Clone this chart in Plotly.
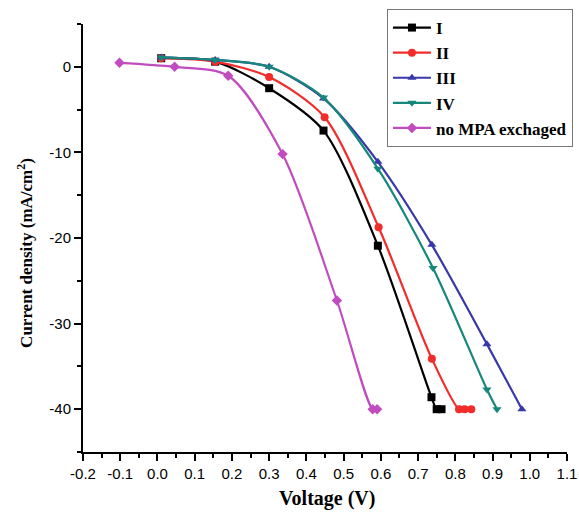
import plotly.graph_objects as go

# Data
v_I = [0.01, 0.155, 0.30, 0.446, 0.592, 0.736, 0.75, 0.763]
j_I = [1.0, 0.6, -2.5, -7.45, -20.9, -38.6, -40.0, -40.0]

v_II = [0.01, 0.155, 0.30, 0.449, 0.594, 0.737, 0.81, 0.825, 0.843]
j_II = [1.0, 0.6, -1.2, -5.9, -18.75, -34.1, -40.0, -40.0, -40.0]

v_III = [0.01, 0.155, 0.30, 0.446, 0.592, 0.737, 0.885, 0.979]
j_III = [1.1, 0.8, 0.0, -3.7, -11.1, -20.8, -32.4, -40.0]

v_IV = [0.01, 0.155, 0.30, 0.446, 0.592, 0.74, 0.885, 0.912]
j_IV = [1.1, 0.8, 0.0, -3.6, -11.9, -23.5, -37.7, -40.0]

v_no = [-0.102, 0.046, 0.19, 0.336, 0.482, 0.578, 0.59]
j_no = [0.47, 0.0, -1.05, -10.2, -27.3, -40.0, -40.0]

series = [
    ("I", v_I, j_I, "#000000", "square"),
    ("II", v_II, j_II, "#f22b2b", "circle"),
    ("III", v_III, j_III, "#3838a8", "triangle-up"),
    ("IV", v_IV, j_IV, "#16877a", "triangle-down"),
    ("no MPA exchaged", v_no, j_no, "#c04cc0", "diamond"),
]

x_ticks = [-0.2, -0.1, 0.0, 0.1, 0.2, 0.3, 0.4, 0.5, 0.6, 0.7, 0.8, 0.9, 1.0, 1.1]
x_labels = ["-0.2", "-0.1", "0.0", "0.1", "0.2", "0.3", "0.4", "0.5", "0.6", "0.7", "0.8", "0.9", "1.0", "1.1"]
y_ticks = [0, -10, -20, -30, -40]
y_labels = ["0", "-10", "-20", "-30", "-40"]

x_title = "Voltage (V)"
y_title = "Current density (mA/cm<sup>2</sup>)"

fig = go.Figure()
for name, xs, ys, col, sym in series:
    fig.add_trace(go.Scatter(
        x=xs, y=ys, name=name, mode="lines+markers",
        line=dict(color=col, width=2.2, shape="spline", smoothing=0.8),
        marker=dict(color=col, symbol=sym, size=8),
    ))

fig.update_layout(
    width=579, height=512,
    margin=dict(l=83, r=12, t=24, b=60, autoexpand=False),
    paper_bgcolor="white", plot_bgcolor="white",
    showlegend=True,
    legend=dict(
        x=0.628, y=1.035, xanchor="left", yanchor="top",
        bordercolor="#777777", borderwidth=1, bgcolor="white",
        font=dict(family="Liberation Serif", size=17, color="black", weight="bold"),
        tracegroupgap=0, itemwidth=38,
    ),
    xaxis=dict(
        range=[-0.2, 1.1], tickvals=x_ticks, ticktext=x_labels, automargin=False,
        showgrid=False, zeroline=False, showline=True, linecolor="black", linewidth=2,
        ticks="outside", ticklen=7, tickwidth=2, tickcolor="black",
        minor=dict(ticks="outside", ticklen=4, tickwidth=2, tickcolor="black", dtick=0.05, showgrid=False),
        tickfont=dict(family="Liberation Sans", size=15, color="black"),
    ),
    yaxis=dict(
        range=[-45, 5], tickvals=y_ticks, ticktext=y_labels, automargin=False,
        showgrid=False, zeroline=False, showline=True, linecolor="black", linewidth=2,
        ticks="outside", ticklen=7, tickwidth=2, tickcolor="black",
        minor=dict(ticks="outside", ticklen=4, tickwidth=2, tickcolor="black", dtick=5, showgrid=False),
        tickfont=dict(family="Liberation Sans", size=15, color="black"),
    ),
    annotations=[
        dict(text=x_title, xref="paper", yref="paper", x=0.504, y=-0.108,
             xanchor="center", yanchor="middle", showarrow=False,
             font=dict(family="Liberation Serif", size=20, color="black", weight="bold")),
        dict(text=y_title, xref="paper", yref="paper", x=-0.12, y=0.465,
             xanchor="center", yanchor="middle", showarrow=False, textangle=-90,
             font=dict(family="Liberation Serif", size=17, color="black", weight="bold")),
    ],
)

fig.write_html("out.html")
